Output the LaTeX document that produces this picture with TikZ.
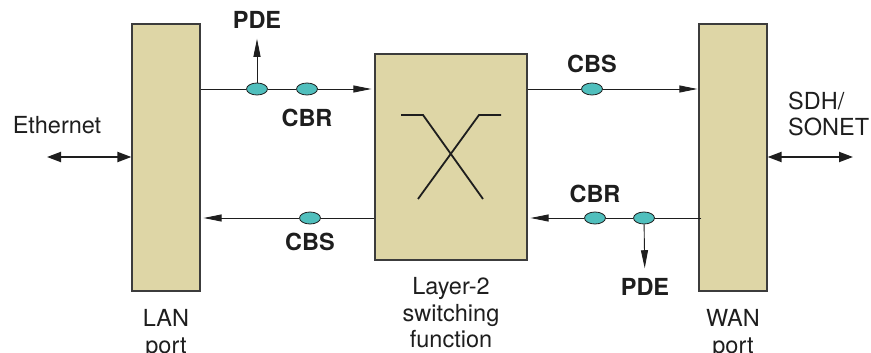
\documentclass[tikz,border=0pt]{standalone}
\usepackage{fontspec}
\setmainfont{TeX Gyre Heros}
\usetikzlibrary{arrows.meta,shapes.geometric,positioning}
\definecolor{PortTan}{RGB}{222,214,166}
\definecolor{CellTeal}{RGB}{80,191,189}
\definecolor{EdgeGray}{RGB}{60,60,60}
\definecolor{InkDark}{RGB}{30,30,30}

\begin{document}
\begin{tikzpicture}[x=1pt,y=-1pt,
        font=\fontsize{23.5}{26.5}\selectfont,
        port/.style={draw=EdgeGray,fill=PortTan,line width=1.2pt,
                     minimum width=68pt,minimum height=267pt,inner sep=0pt},
        swbox/.style={port,minimum width=152pt,minimum height=206pt},
        cell/.style={ellipse,draw=InkDark,fill=CellTeal,line width=0.8pt,
                     minimum width=21pt,minimum height=12pt,inner sep=0pt},
        tag/.style={font=\fontsize{23.5}{26.5}\selectfont\bfseries,text=InkDark,inner sep=0pt},
        caption/.style={align=center,text=InkDark,inner sep=0pt},
        link/.style={InkDark,line width=0.9pt},
        arr/.style={link,-{Triangle[length=18pt,width=7pt]}},
        dbl/.style={InkDark,line width=2pt,
                    {Triangle[length=14pt,width=10pt]}-{Triangle[length=14pt,width=10pt]}}
      ]
        \useasboundingbox (0,0) rectangle (871,353);
        % ports and switch
        \node[port] (lan) at (166,157.5) {};
        \node[swbox] (sw) at (451,157) {};
        \node[port] (wan) at (733,157.5) {};
        \node[caption,below=18pt of lan] {LAN\\port};
        \node[caption,below=17pt of sw] {Layer-2\\switching\\function};
        \node[caption,below=18pt of wan] {WAN\\port};
        % cross symbol
        \draw[InkDark,line width=1.8pt] (401,115) -- (423,115) -- (483,199);
        \draw[InkDark,line width=1.8pt] (501,115) -- (479,115) -- (418,199);
        % cells on the links
        \node[cell] (pdeA) at (257,89) {};
        \node[cell] (cbrA) at (307,89) {};
        \node[cell] (cbsA) at (592,89) {};
        \node[cell] (cbsB) at (310,218) {};
        \node[cell] (cbrB) at (595,218) {};
        \node[cell] (pdeB) at (644,218) {};
        % LAN -> switch
        \draw[link] (pdeA -| lan.east) -- (pdeA) (pdeA) -- (cbrA);
        \draw[arr,shorten >=3pt] (cbrA) -- (cbrA -| sw.west);
        \node[tag] (pdeUp) at (257,20) {PDE};
        \draw[arr,shorten >=10pt] (pdeA) -- (pdeUp);
        \node[tag,below=13pt of cbrA] {CBR};
        % switch -> WAN
        \draw[link] (cbsA -| sw.east) -- (cbsA);
        \draw[arr,shorten >=1pt] (cbsA) -- (cbsA -| wan.west);
        \node[tag,above=10pt of cbsA] {CBS};
        % WAN -> switch
        \draw[link] ([xshift=3pt]pdeB -| wan.west) -- (pdeB) (pdeB) -- (cbrB);
        \draw[arr,shorten >=3pt] (cbrB) -- (cbrB -| sw.east);
        \node[tag,above=9pt of cbrB] {CBR};
        \node[tag] (pdeDn) at (645,287) {PDE};
        \draw[arr,shorten >=10pt] (pdeB) -- (pdeDn);
        % switch -> LAN
        \draw[link] (cbsB -| sw.west) -- (cbsB);
        \draw[arr,shorten >=3pt] (cbsB) -- (cbsB -| lan.east);
        \node[tag,below=8pt of cbsB] {CBS};
        % outside interfaces
        \node[caption] (eth) at (57,125) {Ethernet};
        \coordinate (ethEnd) at (47,157);
        \draw[dbl] (ethEnd) -- (ethEnd -| lan.west);
        \node[caption,align=left,anchor=west] (sdh) at (788,114) {SDH/\\SONET};
        \coordinate (sdhEnd) at (853,157);
        \draw[dbl] (sdhEnd -| wan.east) -- (sdhEnd);
      \end{tikzpicture}
\end{document}
